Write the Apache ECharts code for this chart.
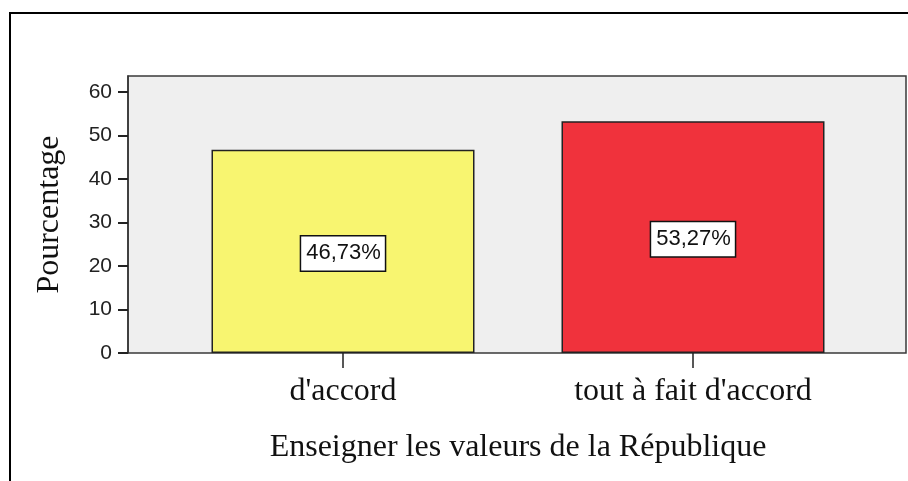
<html>
    <head>
        <meta charset="utf-8">
        <script src='https://cdn.jsdelivr.net/npm/echarts@6/dist/echarts.min.js'></script>
    </head>
    <body>
        <style>
            html, body{
                width: 100%;
                height: 100%;
                margin: 0;
                background: #fff;
            }
            #main{ width: 908px; height: 481px; }
        </style>
        <div id='main'></div>
        <script>
            // donnees
            var categories = ["d'accord", "tout à fait d'accord"];
            var values = [46.73, 53.27];
            var barColors = ['#f8f570', '#f0323c'];
            var yTicks = [0, 10, 20, 30, 40, 50, 60];
            var yMax = 63.7;
            var xTitle = 'Enseigner les valeurs de la République';
            var yTitle = 'Pourcentage';

            var serif = '"Liberation Serif", "Times New Roman", serif';
            var sans = '"Liberation Sans", Arial, sans-serif';

            var chart = echarts.init(document.getElementById('main'));
            var option = {
                animation: false,
                graphic: [{
                    type: 'rect',
                    shape: { x: 10, y: 13, width: 1200, height: 800 },
                    style: { fill: 'none', stroke: '#000', lineWidth: 2 },
                    silent: true
                }],
                grid: [
                    // cadre gris de la zone de trace
                    { left: 128, top: 76, right: 2, bottom: 128, show: true,
                      backgroundColor: '#efefef', borderColor: '#3a3a3a', borderWidth: 1.5 },
                    // grille des barres
                    { left: 168, top: 76, right: 40, bottom: 128, show: false }
                ],
                xAxis: [
                    { gridIndex: 0, type: 'value', show: false, min: 0, max: 1 },
                    {
                        gridIndex: 1,
                        type: 'category',
                        data: categories,
                        axisLine: { show: false },
                        axisTick: { show: true, alignWithLabel: true, length: 15,
                                    lineStyle: { color: '#222', width: 1.5 } },
                        axisLabel: { margin: 23, color: '#111', fontFamily: serif, fontSize: 32 },
                        name: xTitle,
                        nameLocation: 'middle',
                        nameGap: 79,
                        nameTextStyle: { color: '#111', fontFamily: serif, fontSize: 32 }
                    }
                ],
                yAxis: [
                    {
                        gridIndex: 0,
                        type: 'value',
                        min: 0,
                        max: yMax,
                        splitLine: { show: false },
                        axisLine: { show: true, lineStyle: { color: '#333', width: 1.5 } },
                        axisTick: { show: true, length: 10, customValues: yTicks,
                                    lineStyle: { color: '#222', width: 2 } },
                        axisLabel: { margin: 16, color: '#222', fontFamily: sans, fontSize: 21,
                                     customValues: yTicks },
                        name: yTitle,
                        nameLocation: 'middle',
                        nameGap: 62,
                        nameTextStyle: { color: '#111', fontFamily: serif, fontSize: 32 }
                    },
                    { gridIndex: 1, type: 'value', min: 0, max: yMax, show: false }
                ],
                series: [{
                    type: 'bar',
                    xAxisIndex: 1,
                    yAxisIndex: 1,
                    barWidth: 263,
                    data: values.map(function (v, i) {
                        return { value: v, itemStyle: { color: barColors[i] } };
                    }),
                    itemStyle: { borderColor: '#222', borderWidth: 1.5 },
                    label: {
                        show: true,
                        position: 'inside',
                        offset: [0, 2],
                        color: '#111',
                        fontFamily: sans,
                        fontSize: 22,
                        backgroundColor: '#fff',
                        borderColor: '#111',
                        borderWidth: 1.5,
                        padding: [6, 4, 6, 5],
                        formatter: function (p) {
                            return p.value.toFixed(2).replace('.', ',') + '%';
                        }
                    }
                }]
            };
            chart.setOption(option);
        </script>
    </body>
</html>
